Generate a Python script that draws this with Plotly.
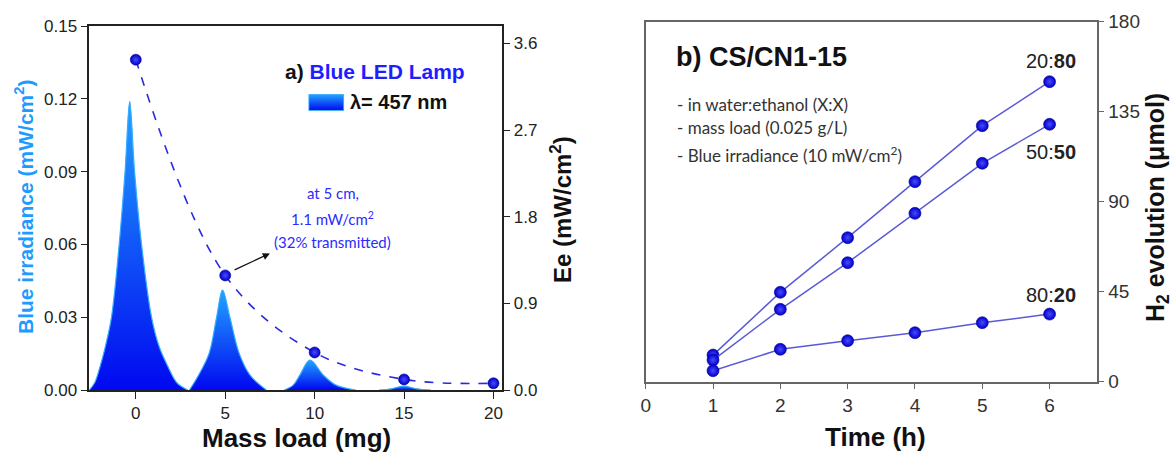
import base64
import plotly.graph_objects as go

# ---------------- data: panel a ----------------
mass_load = [0, 5, 10, 15, 20]
ee_values = [3.43, 1.19, 0.39, 0.11, 0.07]

peak1_x = [-2.6, -2.3, -2.0, -1.7, -1.36, -0.93, -0.6, -0.34, -0.07, 0.32, 0.88, 1.3, 1.8, 2.3, 2.9]
peak1_y = [0.0, 0.003, 0.0096, 0.018, 0.03, 0.06, 0.09, 0.119, 0.09, 0.06, 0.03, 0.018, 0.0096, 0.003, 0.0]
peak2_x = [3.0, 3.5, 4.1, 4.52, 4.85, 5.26, 5.78, 6.4, 7.3]
peak2_y = [0.0, 0.006, 0.0151, 0.03, 0.0412, 0.03, 0.0151, 0.006, 0.0]
peak3_x = [8.3, 8.8, 9.18, 9.74, 10.48, 11.2, 12.3]
peak3_y = [0.0, 0.002, 0.0062, 0.01236, 0.0062, 0.002, 0.0]
peak4_x = [13.6, 14.3, 14.96, 15.7, 16.5]
peak4_y = [0.0, 0.0005, 0.00165, 0.0005, 0.0]

left_ticks = [0.0, 0.03, 0.06, 0.09, 0.12, 0.15]
right_ticks = [0.0, 0.9, 1.8, 2.7, 3.6]
mass_ticks = [0, 5, 10, 15, 20]

# ---------------- data: panel b ----------------
time_h = [1, 2, 3, 4, 5, 6]
h2_20_80 = [13.3, 44.7, 72.0, 100.0, 128.0, 150.0]
h2_50_50 = [10.8, 36.2, 59.5, 84.2, 109.2, 128.7]
h2_80_20 = [5.5, 16.2, 20.5, 24.5, 29.5, 33.8]
h2_ticks = [0, 45, 90, 135, 180]
time_ticks = [0, 1, 2, 3, 4, 5, 6]

W, H = 1173, 452
ARIAL = "Arial, Liberation Sans, sans-serif"
CALIBRI = "Lato, Open Sans, sans-serif"

def px(xp):
    return xp / W

def py(yp):
    return 1 - yp / H

fig = go.Figure()

LIGHT = "#22a4ff"
DARK = "#0008f0"
for xs, ys in [(peak1_x, peak1_y), (peak2_x, peak2_y), (peak3_x, peak3_y), (peak4_x, peak4_y)]:
    fig.add_trace(go.Scatter(
        x=xs, y=ys, mode="lines", line=dict(color="#35acff", width=1.2, shape="spline", smoothing=1.0),
        fill="tozeroy",
        fillgradient=dict(type="vertical", colorscale=[[0, DARK], [1, LIGHT]]),
        xaxis="x", yaxis="y", showlegend=False, hoverinfo="skip"))

sphere_a = dict(size=11, color="#0000c8", line=dict(color="#00009a", width=0.6),
                gradient=dict(type="radial", color="#4a4aff"))
fig.add_trace(go.Scatter(
    x=mass_load, y=ee_values, mode="lines+markers",
    line=dict(color="#2a2ae0", width=1.6, dash="dash", shape="spline", smoothing=1.0),
    marker=sphere_a, xaxis="x", yaxis="y2", showlegend=False))

sphere_b = dict(size=12, color="#0000c8", line=dict(color="#00009a", width=0.6),
                gradient=dict(type="radial", color="#4a4aff"))
for ys in [h2_20_80, h2_50_50, h2_80_20]:
    fig.add_trace(go.Scatter(
        x=time_h, y=ys, mode="lines+markers",
        line=dict(color="#5a5ad8", width=1.5),
        marker=sphere_b, xaxis="x2", yaxis="y3", showlegend=False))

axA = dict(showline=True, linecolor="#222", linewidth=1.5, ticks="outside", ticklen=7,
           tickwidth=1.3, tickcolor="#222", showgrid=False, zeroline=False, automargin=False,
           tickfont=dict(family=ARIAL, size=17, color="#222"))
axB = dict(showline=True, linecolor="#666", linewidth=1.5, ticks="outside", ticklen=6,
           tickwidth=1.3, tickcolor="#666", showgrid=False, zeroline=False, automargin=False,
           tickfont=dict(family=ARIAL, size=19, color="#333"))

fig.update_layout(
    width=W, height=H, margin=dict(l=0, r=0, t=0, b=0, pad=0, autoexpand=False),
    paper_bgcolor="white", plot_bgcolor="white", showlegend=False,
    xaxis=dict(axA, domain=[px(89.3), px(501.7)], range=[-2.6, 20.46], anchor="y",
               tickvals=mass_ticks, mirror=True),
    yaxis=dict(axA, domain=[py(390), py(26)], range=[0, 0.15], anchor="x",
               tickvals=left_ticks, tickformat=".2f"),
    yaxis2=dict(axA, overlaying="y", side="right", anchor="x", range=[0, 3.78],
                tickvals=right_ticks, tickformat=".1f"),
    xaxis2=dict(axB, domain=[px(645.7), px(1096.7)], range=[0, 6.7], anchor="y3",
                tickvals=time_ticks, mirror=True),
    yaxis3=dict(axB, domain=[py(381.7), py(21.7)], range=[0, 180], anchor="x2",
                side="right", tickvals=h2_ticks, mirror=True),
)

ann = []
def text(x, y, s, size, color="#111", family=ARIAL, xanchor="center", angle=0, xref="paper", yref="paper"):
    ann.append(dict(x=x, y=y, xref=xref, yref=yref, text=s, showarrow=False,
                    xanchor=xanchor, yanchor="middle", textangle=angle,
                    font=dict(family=family, size=size, color=color)))

# panel a texts
text(px(283.3), py(71.7), "<b>a) <span style='color:#1e1eff'>Blue LED Lamp</span></b>", 21, "#111", xanchor="left")
text(px(348.3), py(102), "<b>λ= 457 nm</b>", 20, "#111", xanchor="left")
text(px(24), py(207), "<b>Blue irradiance (mW/cm<sup>2</sup>)</b>", 21, "#1e9bff", angle=-90)
text(px(561), py(210), "<b>Ee (mW/cm<sup>2</sup>)</b>", 24, "#111", angle=-90)
text(px(296), py(438), "<b>Mass load (mg)</b>", 26, "#111")
text(11.02, 0.0811, "at 5 cm,", 15, "#2b2bff", family=CALIBRI, xref="x", yref="y")
text(11.02, 0.0705, "1.1 mW/cm<sup>2</sup>", 15, "#2b2bff", family=CALIBRI, xref="x", yref="y")
text(11.02, 0.0609, "(32% transmitted)", 15, "#2b2bff", family=CALIBRI, xref="x", yref="y")
ann.append(dict(x=7.5, y=0.0563, ax=5.44, ay=0.0492, xref="x", yref="y", axref="x", ayref="y",
                showarrow=True, arrowhead=2, arrowsize=1.1, arrowwidth=1.3, arrowcolor="#111", text=""))

# panel b texts
text(px(674.3), py(57.3), "<b>b) CS/CN1-15</b>", 27, "#111", xanchor="left")
text(px(675), py(104.3), "- in water:ethanol (X:X)", 17, "#333", family=CALIBRI, xanchor="left")
text(px(675), py(127.7), "- mass load (0.025 g/L)", 17, "#333", family=CALIBRI, xanchor="left")
text(px(675), py(154.3), "- Blue irradiance (10 mW/cm<sup>2</sup>)", 17, "#333", family=CALIBRI, xanchor="left")
text(6.025, 160.3, "20:<b>80</b>", 20, "#222", xref="x2", yref="y3")
text(6.025, 115.0, "50:<b>50</b>", 20, "#222", xref="x2", yref="y3")
text(6.025, 43.3, "80:<b>20</b>", 20, "#222", xref="x2", yref="y3")
text(px(875), py(436.7), "<b>Time (h)</b>", 26, "#111")
text(px(1157), py(208), "<b>H<sub>2</sub> evolution (μmol)</b>", 25, "#111", angle=-90)

fig.update_layout(annotations=ann)

# legend swatch (gradient box)
svg = ('<svg xmlns="http://www.w3.org/2000/svg" width="36" height="17">'
       '<defs><linearGradient id="g" x1="0" y1="0" x2="0" y2="1">'
       '<stop offset="0" stop-color="#22a4ff"/><stop offset="1" stop-color="#0008f0"/>'
       '</linearGradient></defs>'
       '<rect x="0.5" y="0.5" width="35" height="16" fill="url(#g)" stroke="#45b2ff" stroke-width="1"/></svg>')
src = "data:image/svg+xml;base64," + base64.b64encode(svg.encode()).decode()
fig.add_layout_image(dict(source=src, xref="paper", yref="paper", x=px(308.3), y=py(94),
                          sizex=px(36), sizey=17 / H, xanchor="left", yanchor="top",
                          sizing="stretch", layer="above"))

fig.write_html("out.html", config={"displayModeBar": False},
               post_script="document.body.style.margin='0';document.body.style.overflow='hidden';")
